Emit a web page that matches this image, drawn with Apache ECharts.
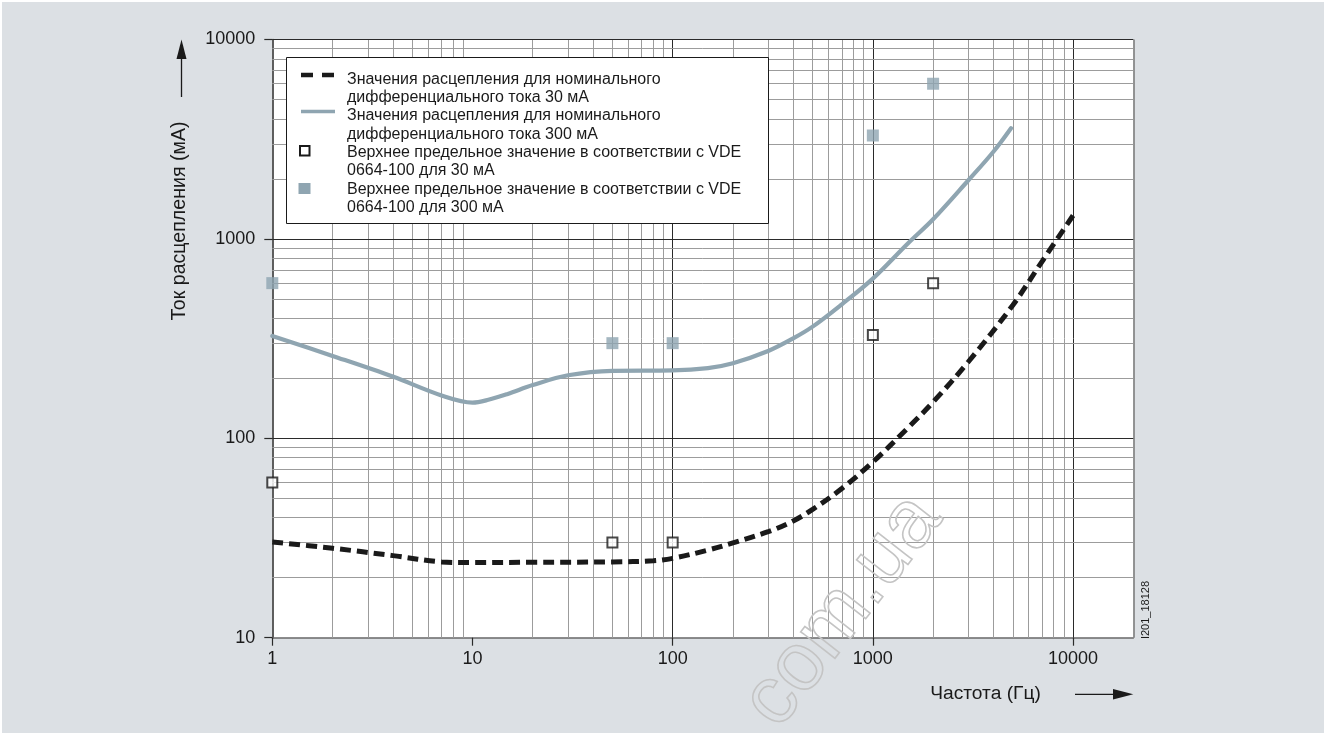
<!DOCTYPE html>
<html>
<head>
<meta charset="utf-8">
<script src="https://cdn.jsdelivr.net/npm/echarts@6/dist/echarts.min.js"></script>
<style>html,body{margin:0;padding:0;background:#fff}#main{width:1326px;height:735px}</style>
</head>
<body>
<div id="main"></div>
<script>
// ---- data ----
const freq30 = [1, 2, 4, 7, 10, 20, 50, 80, 100, 150, 200, 300, 400, 500, 700, 1000, 1500, 2000, 3000, 5000, 7000, 10000];
const trip30 = [30.2, 28.1, 25.8, 24, 23.8, 23.9, 24, 24.3, 25, 27.5, 29.9, 34, 38.5, 44, 56, 76, 113, 152, 242, 465, 770, 1310];
const freq300 = [1, 2, 4, 7, 10, 12, 15, 20, 30, 50, 100, 150, 200, 300, 400, 500, 700, 1000, 1500, 2000, 3000, 4000, 4900];
const trip300 = [326, 259, 204, 164, 151, 156, 167, 185, 207, 218, 219, 225, 238, 274, 317, 363, 470, 632, 951, 1254, 1968, 2736, 3590];
const limitFreq = [1, 50, 100, 1000, 2000];
const limit30 = [60, 30, 30, 330, 600];
const limit300 = [600, 300, 300, 3300, 6000];
const xTickValues = [1, 10, 100, 1000, 10000];
const yTickValues = [10, 100, 1000, 10000];
const legendLabels = [
  'Значения расцепления для номинального\nдифференциального тока 30 мА',
  'Значения расцепления для номинального\nдифференциального тока 300 мА',
  'Верхнее предельное значение в соответствии с VDE\n0664-100 для 30 мА',
  'Верхнее предельное значение в соответствии с VDE\n0664-100 для 300 мА'
];
const xTitle = 'Частота (Гц)';
const yTitle = 'Ток расцепления (мА)';
const docCode = 'I201_18128';
const watermark = 'com.ua';

// ---- styling ----
const FONT = '"Liberation Sans", Arial, Helvetica, sans-serif';
const INK = '#1a1a1a';
const BLUEGREY = '#8fa5b1';
const MINOR = '#9c9c9c';
const MAJOR = '#2a2a2a';

function pairs(xs, ys) { return xs.map((x, i) => [x, ys[i]]); }

// grid lines (minor 2..9 per decade, majors)
const gridData = [];
[1, 10, 100, 1000].forEach(d => { for (let k = 2; k <= 9; k++) gridData.push({ xAxis: d * k, lineStyle: { color: MINOR, width: 1, type: 'solid' } }); });
[100, 1000, 10000].forEach(v => gridData.push({ xAxis: v, lineStyle: { color: MAJOR, width: 1, type: 'solid' } }));
gridData.push({ xAxis: 20000, lineStyle: { color: '#777', width: 1.5, type: 'solid' } });
[10, 100, 1000].forEach(d => { for (let k = 2; k <= 9; k++) gridData.push({ yAxis: d * k, lineStyle: { color: MINOR, width: 1, type: 'solid' } }); });
[100, 1000, 10000].forEach(v => gridData.push({ yAxis: v, lineStyle: { color: MAJOR, width: 1.2, type: 'solid' } }));

const chart = echarts.init(document.getElementById('main'), null, { renderer: 'canvas' });
const isPow10 = v => Math.abs(Math.log10(v) - Math.round(Math.log10(v))) < 1e-9;

chart.setOption({
  animation: false,
  backgroundColor: '#ffffff',
  textStyle: { fontFamily: FONT },
  grid: { left: 272.3, top: 39.5, width: 861, height: 598.2, show: true, backgroundColor: '#ffffff', borderWidth: 0 },
  xAxis: {
    type: 'log', logBase: 10, min: 1, max: 20000,
    axisLine: { show: true, onZero: false, lineStyle: { color: '#6a6a6a', width: 1.5 } },
    axisTick: { show: true, length: 8, customValues: xTickValues, lineStyle: { color: MAJOR, width: 1.2 } },
    axisLabel: { customValues: xTickValues, margin: 12, fontSize: 18, color: INK, fontFamily: FONT,
      formatter: v => (isPow10(v) ? String(Math.round(v)) : '') },
    splitLine: { show: false }, minorTick: { show: false }, minorSplitLine: { show: false }
  },
  yAxis: {
    type: 'log', logBase: 10, min: 10, max: 10000,
    axisLine: { show: true, onZero: false, lineStyle: { color: MAJOR, width: 1.5 } },
    axisTick: { show: true, length: 8, customValues: yTickValues, lineStyle: { color: MAJOR, width: 1.2 } },
    axisLabel: { customValues: yTickValues, margin: 17, fontSize: 18, color: INK, fontFamily: FONT,
      formatter: v => (isPow10(v) ? String(Math.round(v)) : '') },
    splitLine: { show: false }
  },
  series: [
    { type: 'line', name: 'grid', data: [], z: 1, silent: true,
      markLine: { z: 1, silent: true, symbol: ['none', 'none'], label: { show: false }, animation: false,
        emphasis: { disabled: true }, data: gridData } },
    { type: 'line', name: legendLabels[1], data: pairs(freq300, trip300), smooth: 0.35, showSymbol: false, symbol: 'none', z: 3,
      lineStyle: { color: BLUEGREY, width: 4.2, cap: 'round' } },
    { type: 'line', name: legendLabels[0], data: pairs(freq30, trip30), smooth: 0.35, showSymbol: false, symbol: 'none', z: 3,
      lineStyle: { color: INK, width: 5, type: [11, 6], cap: 'butt' } },
    { type: 'scatter', name: legendLabels[2], data: pairs(limitFreq, limit30), symbol: 'rect', symbolSize: 10, z: 4,
      itemStyle: { color: '#ffffff', borderColor: INK, borderWidth: 2 } },
    { type: 'scatter', name: legendLabels[3], data: pairs(limitFreq, limit300), symbol: 'rect', symbolSize: 12, z: 4,
      itemStyle: { color: BLUEGREY } }
  ],
  graphic: [
    { type: 'rect', z: -100, silent: true, shape: { x: 2, y: 2, width: 1322, height: 731 }, style: { fill: '#dce0e4' } },
    // legend box
    { type: 'rect', z: 100, shape: { x: 286.5, y: 57.5, width: 482, height: 166 }, style: { fill: '#ffffff', stroke: INK, lineWidth: 1 } },
    { type: 'line', z: 101, shape: { x1: 301, y1: 75, x2: 334, y2: 75 }, style: { stroke: INK, lineWidth: 4.5, lineDash: [12, 9] } },
    { type: 'line', z: 101, shape: { x1: 301, y1: 111.5, x2: 335, y2: 111.5 }, style: { stroke: BLUEGREY, lineWidth: 3.5 } },
    { type: 'rect', z: 101, shape: { x: 300, y: 146, width: 9.5, height: 9.5 }, style: { fill: '#fff', stroke: INK, lineWidth: 2 } },
    { type: 'rect', z: 101, shape: { x: 298.5, y: 183, width: 12, height: 11 }, style: { fill: BLUEGREY } },
    { type: 'text', z: 101, x: 347, y: 70.2, style: { text: legendLabels.join('\n'), fontSize: 16, fontFamily: FONT, fill: INK, lineHeight: 18.3, verticalAlign: 'top', align: 'left' } },
    // y title + arrow
    { type: 'text', z: 101, x: 180, y: 221, rotation: Math.PI / 2, style: { text: yTitle, fontSize: 19.6, fontFamily: FONT, fill: INK, align: 'center', verticalAlign: 'middle' } },
    { type: 'line', z: 101, shape: { x1: 181.5, y1: 97, x2: 181.5, y2: 56 }, style: { stroke: INK, lineWidth: 1.3 } },
    { type: 'polygon', z: 101, shape: { points: [[181.5, 39.5], [176.5, 59], [186.5, 59]] }, style: { fill: INK } },
    // x title + arrow
    { type: 'text', z: 101, x: 985.5, y: 694, style: { text: xTitle, fontSize: 19.2, fontFamily: FONT, fill: INK, align: 'center', verticalAlign: 'middle' } },
    { type: 'line', z: 101, shape: { x1: 1075, y1: 694.3, x2: 1116, y2: 694.3 }, style: { stroke: INK, lineWidth: 1.3 } },
    { type: 'polygon', z: 101, shape: { points: [[1133.3, 694.3], [1113, 689], [1113, 699.6]] }, style: { fill: INK } },
    // document code
    { type: 'text', z: 101, x: 1146, y: 610, rotation: Math.PI / 2, style: { text: docCode, fontSize: 11, fontFamily: FONT, fill: INK, align: 'center', verticalAlign: 'middle' } },
    // watermark
    { type: 'text', z: 120, silent: true, x: 843, y: 611, rotation: 0.91, style: { text: watermark, fontSize: 82, fontFamily: FONT, fill: 'rgba(0,0,0,0)', stroke: '#c4c4c4', lineWidth: 1.6, align: 'center', verticalAlign: 'middle' } }
  ]
});
</script>
</body>
</html>
